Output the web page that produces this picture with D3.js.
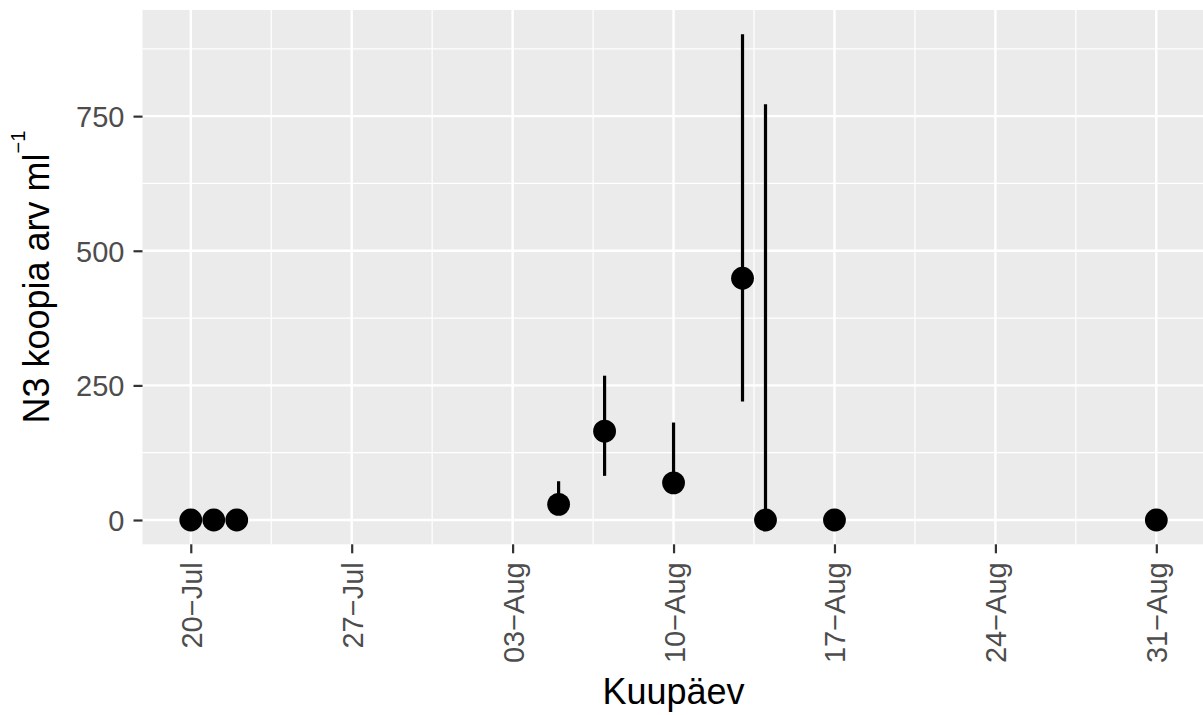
<!DOCTYPE html>
<html>
<head>
<meta charset="utf-8">
<script src="https://d3js.org/d3.v7.min.js"></script>
<style>
  body { margin: 0; background: #fff; }
  text { font-family: "Liberation Sans", Arial, sans-serif; }
</style>
</head>
<body>
<div id="chart"></div>
<script>

var dates  = ["2020-07-20", "2020-07-21", "2020-07-22", "2020-08-05", "2020-08-07",
              "2020-08-10", "2020-08-13", "2020-08-14", "2020-08-17", "2020-08-31"];
var values = [0, 0, 0, 29, 165, 69, 449, 0, 0, 0];
var lower  = [0, 0, 0, 12, 82, 55, 220, 0, 0, 0];
var upper  = [0, 0, 0, 72, 268, 181, 902, 772, 0, 0];

var xTicks = ["2020-07-20", "2020-07-27", "2020-08-03", "2020-08-10",
              "2020-08-17", "2020-08-24", "2020-08-31"];
var yTicks = [0, 250, 500, 750];
var yMinor = [125, 375, 625, 875];

var width = 1203, height = 715;
var panel = {left: 142.5, right: 1204.6, top: 10, bottom: 544.3};

var parse = d3.utcParse("%Y-%m-%d");
var fmt = d3.utcFormat("%d\u2212%b");

var data = dates.map(function (d, i) {
  return {date: parse(d), value: values[i], lo: lower[i], hi: upper[i]};
});

// ggplot style 5% expansion
var xExt = d3.extent(data, function (d) { return d.date; });
var xPad = (xExt[1] - xExt[0]) * 0.05;
var xScale = d3.scaleUtc()
    .domain([new Date(+xExt[0] - xPad), new Date(+xExt[1] + xPad)])
    .range([panel.left, panel.right]);

var yMax = d3.max(data, function (d) { return d.hi; });
var yPad = yMax * 0.05;
var yScale = d3.scaleLinear()
    .domain([-yPad, yMax + yPad])
    .range([panel.bottom, panel.top]);

var svg = d3.select("#chart")
    .append("svg")
    .attr("width", width)
    .attr("height", height);

svg.append("rect")
    .attr("x", panel.left)
    .attr("y", panel.top)
    .attr("width", panel.right - panel.left)
    .attr("height", panel.bottom - panel.top)
    .attr("fill", "#EBEBEB");

var majorX = xTicks.map(parse);
var minorX = [];
majorX.forEach(function (d) {
  minorX.push(d3.utcHour.offset(d, -84));
});
minorX.push(d3.utcHour.offset(majorX[majorX.length - 1], 84));
minorX = minorX.filter(function (d) {
  return d >= xScale.domain()[0] && d <= xScale.domain()[1];
});

var grid = svg.append("g");

// minor grid
grid.selectAll(".minor-y")
    .data(yMinor)
    .enter().append("line")
    .attr("x1", panel.left).attr("x2", panel.right)
    .attr("y1", function (d) { return yScale(d); })
    .attr("y2", function (d) { return yScale(d); })
    .attr("stroke", "#fff").attr("stroke-width", 1.2);

grid.selectAll(".minor-x")
    .data(minorX)
    .enter().append("line")
    .attr("y1", panel.top).attr("y2", panel.bottom)
    .attr("x1", function (d) { return xScale(d); })
    .attr("x2", function (d) { return xScale(d); })
    .attr("stroke", "#fff").attr("stroke-width", 1.2);

// major grid
grid.selectAll(".major-y")
    .data(yTicks)
    .enter().append("line")
    .attr("x1", panel.left).attr("x2", panel.right)
    .attr("y1", function (d) { return yScale(d); })
    .attr("y2", function (d) { return yScale(d); })
    .attr("stroke", "#fff").attr("stroke-width", 2.4);

grid.selectAll(".major-x")
    .data(majorX)
    .enter().append("line")
    .attr("y1", panel.top).attr("y2", panel.bottom)
    .attr("x1", function (d) { return xScale(d); })
    .attr("x2", function (d) { return xScale(d); })
    .attr("stroke", "#fff").attr("stroke-width", 2.4);

// axes
var xAxis = d3.axisBottom(xScale)
    .tickValues(majorX)
    .tickFormat(fmt)
    .tickSizeInner(9)
    .tickSizeOuter(0)
    .tickPadding(8);

var gx = svg.append("g")
    .attr("transform", "translate(0," + panel.bottom + ")")
    .call(xAxis);
gx.select(".domain").remove();
gx.selectAll(".tick line").attr("stroke", "#333333").attr("stroke-width", 2.2);
gx.selectAll(".tick text")
    .attr("fill", "#4D4D4D")
    .attr("font-size", "29px")
    .attr("transform", "rotate(-90)")
    .attr("x", -18)
    .attr("y", 0)
    .attr("dy", "0.36em")
    .attr("text-anchor", "end");

var yAxis = d3.axisLeft(yScale)
    .tickValues(yTicks)
    .tickSizeInner(9)
    .tickSizeOuter(0)
    .tickPadding(9);

var gy = svg.append("g")
    .attr("transform", "translate(" + panel.left + ",0)")
    .call(yAxis);
gy.select(".domain").remove();
gy.selectAll(".tick line").attr("stroke", "#333333").attr("stroke-width", 2.2);
gy.selectAll(".tick text")
    .attr("fill", "#4D4D4D")
    .attr("font-size", "29px")
    .attr("dy", "0.36em");

// error bars
svg.append("g").selectAll("line")
    .data(data.filter(function (d) { return d.hi > d.lo; }))
    .enter().append("line")
    .attr("x1", function (d) { return xScale(d.date); })
    .attr("x2", function (d) { return xScale(d.date); })
    .attr("y1", function (d) { return yScale(d.lo); })
    .attr("y2", function (d) { return yScale(d.hi); })
    .attr("stroke", "#000")
    .attr("stroke-width", 3.2);

// points
svg.append("g").selectAll("circle")
    .data(data)
    .enter().append("circle")
    .attr("cx", function (d) { return xScale(d.date); })
    .attr("cy", function (d) { return yScale(d.value); })
    .attr("r", 11.4)
    .attr("fill", "#000");

// axis titles
svg.append("text")
    .attr("x", (panel.left + panel.right) / 2)
    .attr("y", 704)
    .attr("text-anchor", "middle")
    .attr("font-size", "36px")
    .attr("fill", "#000")
    .text("Kuupäev");

var yt = svg.append("text")
    .attr("transform", "translate(49," + (panel.top + panel.bottom) / 2 + ") rotate(-90)")
    .attr("text-anchor", "middle")
    .attr("font-size", "36px")
    .attr("fill", "#000");
yt.append("tspan").text("N3 koopia arv ml");
yt.append("tspan")
    .attr("font-size", "20px")
    .attr("dy", "-24")
    .text("\u22121");

</script>
</body>
</html>
